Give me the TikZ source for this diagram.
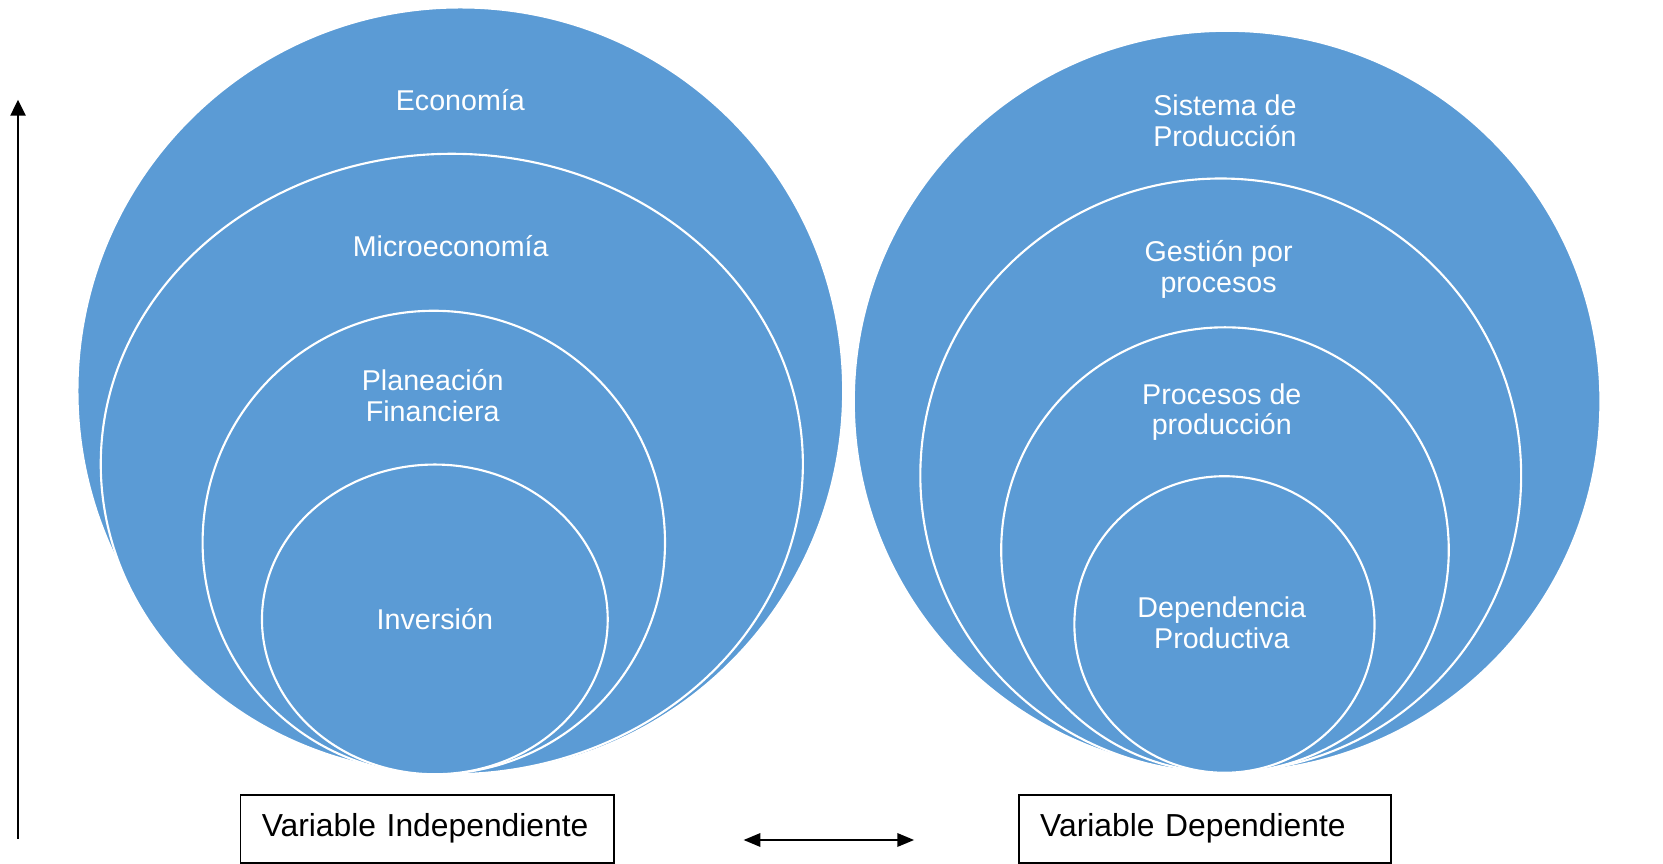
\documentclass[tikz,border=0pt]{standalone}
\usepackage{fontspec}
\setmainfont{Liberation Sans}
\usetikzlibrary{shapes.geometric,arrows.meta}
\definecolor{venn}{HTML}{5B9BD5}
\tikzset{
  ring/.style={ellipse, draw=white, line width=2pt, fill=venn, inner sep=0pt, outer sep=0pt},
  ringtext/.style={anchor=base, align=center, text=white, font=\fontsize{27}{29}\selectfont},
  varbox/.style={draw=black, line width=1.6pt, anchor=north west, align=left, inner xsep=20pt, inner ysep=0pt,
    text height=38.5pt, text depth=25.5pt, font=\fontsize{30}{32}\selectfont},
  axis/.style={line width=2.5pt, -{Triangle[length=15pt,width=14pt]}},
  link/.style={line width=2.5pt, {Triangle[length=16pt,width=12.5pt]}-{Triangle[length=16pt,width=12.5pt]}}
}
\begin{document}
\begin{tikzpicture}[x=1pt,y=-1pt]
\useasboundingbox (0,0) rectangle (1568,813.7);
% left stack
\node[ring, minimum width=722pt, minimum height=723pt] (eco) at (434,368.5) {};
\node[ring, minimum width=662pt, minimum height=585pt] (mic) at (426,437.5) {};
\node[ring, minimum width=436pt, minimum height=437pt] (pla) at (409,511.5) {};
\node[ring, minimum width=326pt, minimum height=292pt] (inv) at (410,584) {};
\node[ringtext] (teco) at (434,104) {Economía};
\node[ringtext] (tmic) at (425,241.5) {Microeconomía};
\node[ringtext] (tpla) at (408,397.5) {Planeación\\Financiera};
\node[ringtext] (tinv) at (410,594) {Inversión};
% right stack
\node[ring, minimum width=704pt, minimum height=699pt] (sis) at (1157,378.5) {};
\node[ring, minimum width=566.5pt, minimum height=560pt] (ges) at (1151,448.3) {};
\node[ring, minimum width=422pt, minimum height=420pt] (pro) at (1155,518.6) {};
\node[ring, minimum width=283pt, minimum height=279.6pt] (dep) at (1154.5,588.8) {};
\node[ringtext] (tsis) at (1155,138.3) {Sistema de\\Producción};
\node[ringtext] (tges) at (1149,275.5) {Gestión por\\procesos};
\node[ringtext] (tpro) at (1152,410) {Procesos de\\producción};
\node[ringtext] (tdep) at (1152,611.5) {Dependencia\\Productiva};
% boxes
\node[varbox, text width=312pt] (vi) at (226,749) {Variable Independiente};
\node[varbox, text width=311pt] (vd) at (960,749) {Variable Dependiente};
% arrows
\coordinate (a0) at (17,791);
\coordinate (a1) at (17,94);
\draw[axis] (a0) -- (a1);
\coordinate (b0) at (701,792);
\coordinate (b1) at (862,792);
\draw[link] (b0) -- (b1);
\end{tikzpicture}
\end{document}
